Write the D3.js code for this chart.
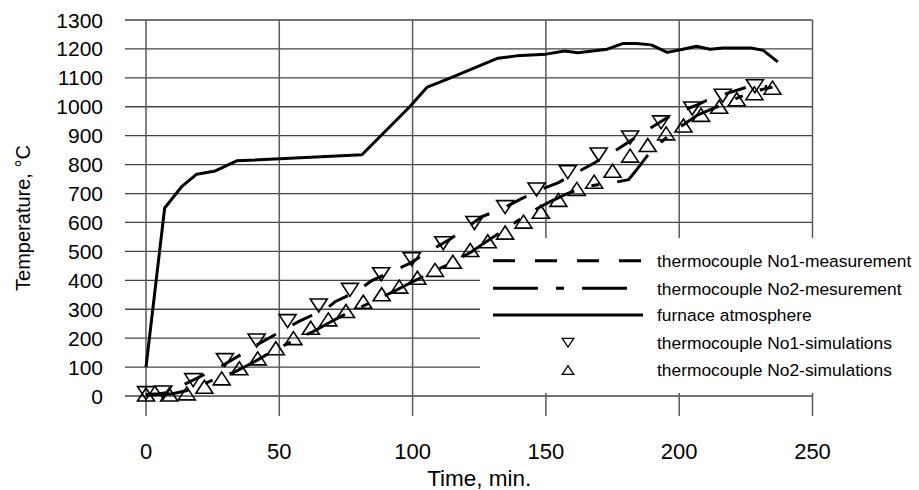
<!DOCTYPE html>
<html><head><meta charset="utf-8">
<script src="https://cdn.jsdelivr.net/npm/d3@7"></script>
<style>
html,body{margin:0;padding:0;background:#fff;}
svg{display:block;}
text{font-family:Arial,"Liberation Sans",sans-serif;fill:#000;}
</style></head>
<body>
<svg id="chart" width="919" height="490"></svg>
<script>
// ---- data ----
const xTicks = [0, 50, 100, 150, 200, 250];
const yTicks = [0,100,200,300,400,500,600,700,800,900,1000,1100,1200,1300];

const furnaceTime = [0, 7, 13.5, 19, 26, 34, 81, 99, 105.5, 114, 132, 139, 150, 157, 162, 173, 179, 184, 189.5, 195.5, 200.5, 206.5, 211.5, 216.5, 227, 231.5, 237];
const furnaceTemp = [100, 650, 725, 767, 778, 813, 834, 1001, 1068, 1099, 1168, 1176, 1182, 1193, 1187, 1199, 1219, 1219, 1214, 1188, 1197, 1209, 1199, 1203, 1203, 1195, 1155];

const meas1Time = [0, 5, 10, 14.6, 22.7, 29, 36.5, 41.5, 50.3, 57.2, 67.8, 70.9, 79, 84.7, 92.2, 99, 106, 114, 119, 126, 134, 140.3, 148, 154.7, 162.2, 167.8, 176, 182.6, 189.1, 197.2, 206.6, 210.3, 218.5, 225.4, 233];
const meas1Temp = [5, 8, 15, 41, 78, 107, 148, 176, 222, 257, 303, 326, 361, 399, 430, 459, 499, 542, 574, 620, 649, 680, 714, 738, 776, 804, 848, 888, 926, 972, 1006, 1022, 1048, 1068, 1070];

const meas2Time = [0, 5, 10, 15, 20, 26.5, 32.8, 40, 47, 55, 62.5, 69, 76.5, 84, 92.8, 100, 107.8, 115, 122, 125.3, 136, 145.3, 151.6, 158, 165.3, 170, 176, 181, 183.5, 188, 193.5, 199, 207, 215, 223, 229, 235];
const meas2Temp = [3, 5, 8, 18, 35, 61, 81, 115, 152, 190, 222, 255, 291, 322, 361, 395, 430, 462, 498, 519, 585, 641, 672, 700, 724, 731, 739, 748, 776, 830, 880, 922, 972, 1003, 1035, 1055, 1068];

const sim1Time = [0, 6.5, 17.7, 29.6, 41.5, 53.1, 64.8, 76.5, 88.2, 99.7, 111.5, 123.2, 134.7, 146.5, 158.2, 169.8, 181.6, 193.2, 204.9, 216.3, 228.4];
const sim1Temp = [10, 12, 55, 124, 192, 259, 313, 367, 421, 473, 528, 598, 653, 714, 774, 835, 894, 946, 994, 1038, 1071];

const sim2Time = [0, 8.7, 15.3, 21.9, 28.4, 35, 41.9, 48.7, 55.3, 61.8, 68.4, 75, 81.5, 88.4, 95, 101.8, 108.4, 115.1, 121.6, 128.2, 134.7, 141.6, 148.1, 154.7, 161.6, 168.1, 175, 181.6, 188.2, 195.1, 201.6, 208.2, 215, 221.6, 228.2, 235];
const sim2Temp = [5, 5, 9, 32, 61, 96, 130, 165, 200, 236, 265, 294, 326, 352, 378, 409, 436, 464, 505, 535, 565, 603, 637, 678, 716, 741, 779, 831, 868, 908, 935, 972, 1000, 1026, 1047, 1066];

const legendLabels = ["thermocouple No1-measurement", "thermocouple No2-mesurement", "furnace atmosphere", "thermocouple No1-simulations", "thermocouple No2-simulations"];
const xTitle = "Time, min.";
const yTitle = "Temperature, \u00B0C";

// ---- layout ----
const svg = d3.select("#chart");
const x = d3.scaleLinear().domain([0, 250]).range([146, 812.5]);
const y = d3.scaleLinear().domain([0, 1300]).range([396, 20]);
const plotLeft = 125, gridBottom = 416;

const zip = (a, b) => a.map((v, i) => [v, b[i]]);

// gridlines
const g = svg.append("g");
g.selectAll("line.h").data(yTicks).join("line")
  .attr("x1", plotLeft).attr("x2", x(250))
  .attr("y1", d => y(d)).attr("y2", d => y(d))
  .attr("stroke", "#444").attr("stroke-width", 1.3);
g.selectAll("line.v").data(xTicks).join("line")
  .attr("x1", d => x(d)).attr("x2", d => x(d))
  .attr("y1", y(1300)).attr("y2", gridBottom)
  .attr("stroke", "#5a5a5a").attr("stroke-width", 1.5);

// tick labels
svg.append("g").selectAll("text").data(yTicks).join("text")
  .attr("x", 103).attr("y", d => y(d)).attr("dy", "0.36em")
  .attr("text-anchor", "end").attr("font-size", 21).text(d => d);
svg.append("g").selectAll("text").data(xTicks).join("text")
  .attr("x", d => x(d)).attr("y", 459)
  .attr("text-anchor", "middle").attr("font-size", 22).text(d => d);

svg.append("text").attr("x", (x(0) + x(250)) / 2).attr("y", 486)
  .attr("text-anchor", "middle").attr("font-size", 22.5).text(xTitle);
svg.append("text").attr("transform", `translate(30,${(y(0) + y(1300)) / 2 + 10}) rotate(-90)`)
  .attr("text-anchor", "middle").attr("font-size", 20).text(yTitle);

// legend background
const legX = 480, legY = 238, legW = 430, legH = 155;
svg.append("rect").attr("x", legX).attr("y", legY).attr("width", legW).attr("height", legH).attr("fill", "#fff");

// lines
const line = d3.line().x(d => x(d[0])).y(d => y(d[1]));
svg.append("path").datum(zip(furnaceTime, furnaceTemp)).attr("d", line)
  .attr("fill", "none").attr("stroke", "#000").attr("stroke-width", 3).attr("stroke-linejoin", "round");
svg.append("path").datum(zip(meas1Time, meas1Temp)).attr("d", line)
  .attr("fill", "none").attr("stroke", "#000").attr("stroke-width", 3).attr("stroke-dasharray", "22,19");
svg.append("path").datum(zip(meas2Time, meas2Temp)).attr("d", line)
  .attr("fill", "none").attr("stroke", "#000").attr("stroke-width", 3).attr("stroke-dasharray", "43,18,8,18");

// markers
function tri(down, s) {
  const w = 8.5 * s, h = 6.5 * s;
  return down ? `M${-w},${-h}L${w},${-h}L0,${h}Z` : `M${-w},${h}L${w},${h}L0,${-h}Z`;
}
svg.append("g").selectAll("path").data(zip(sim1Time, sim1Temp)).join("path")
  .attr("transform", d => `translate(${x(d[0])},${y(d[1])})`)
  .attr("d", tri(true, 1)).attr("fill", "none").attr("stroke", "#000").attr("stroke-width", 1.6);
svg.append("g").selectAll("path").data(zip(sim2Time, sim2Temp)).join("path")
  .attr("transform", d => `translate(${x(d[0])},${y(d[1])})`)
  .attr("d", tri(false, 1)).attr("fill", "none").attr("stroke", "#000").attr("stroke-width", 1.6);

// legend content
const legRowY = [260.7, 288.3, 315, 342.7, 370];
const sx1 = 493, sx2 = 643, tx = 657;
const lg = svg.append("g");
lg.append("line").attr("x1", sx1).attr("x2", sx2).attr("y1", legRowY[0]).attr("y2", legRowY[0])
  .attr("stroke", "#000").attr("stroke-width", 3).attr("stroke-dasharray", "22,20");
lg.append("line").attr("x1", sx1).attr("x2", sx2 - 4).attr("y1", legRowY[1]).attr("y2", legRowY[1])
  .attr("stroke", "#000").attr("stroke-width", 3).attr("stroke-dasharray", "45,18,8,18");
lg.append("line").attr("x1", sx1).attr("x2", sx2).attr("y1", legRowY[2]).attr("y2", legRowY[2])
  .attr("stroke", "#000").attr("stroke-width", 3);
lg.append("path").attr("transform", `translate(${(sx1 + sx2) / 2},${legRowY[3]})`)
  .attr("d", tri(true, 0.68)).attr("fill", "none").attr("stroke", "#000").attr("stroke-width", 1.3);
lg.append("path").attr("transform", `translate(${(sx1 + sx2) / 2},${legRowY[4]})`)
  .attr("d", tri(false, 0.68)).attr("fill", "none").attr("stroke", "#000").attr("stroke-width", 1.3);
lg.selectAll("text").data(legendLabels).join("text")
  .attr("x", tx).attr("y", (d, i) => legRowY[i]).attr("dy", "0.36em")
  .attr("font-size", 17.4).text(d => d);
</script>
</body></html>
